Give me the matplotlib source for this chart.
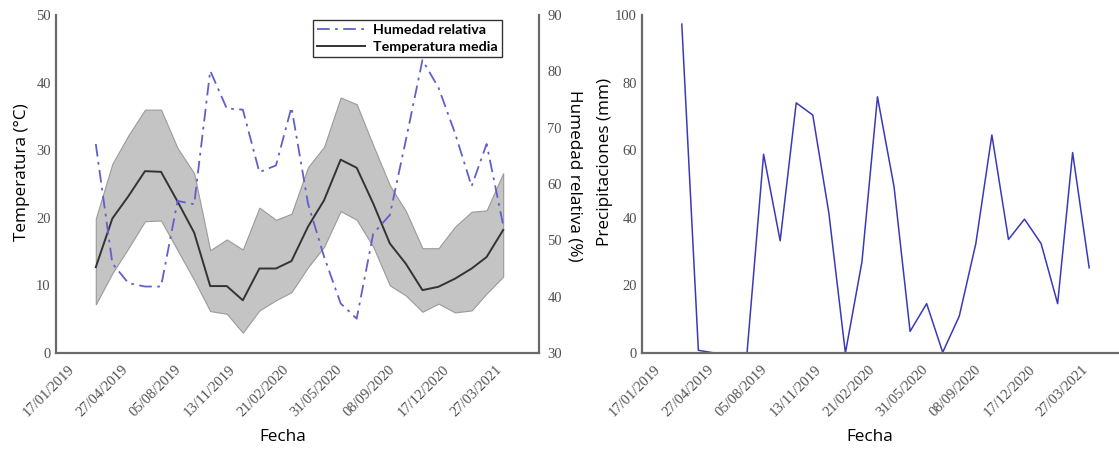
import matplotlib
matplotlib.use("Agg")
import matplotlib.pyplot as plt
import matplotlib.dates as mdates
import pandas as pd

# ---------------- data ----------------
fechas = ["2019-03-10", "2019-04-10", "2019-05-10", "2019-06-10", "2019-07-10",
          "2019-08-10", "2019-09-10", "2019-10-10", "2019-11-10", "2019-12-10",
          "2020-01-10", "2020-02-10", "2020-03-10", "2020-04-10", "2020-05-10",
          "2020-06-10", "2020-07-10", "2020-08-10", "2020-09-10", "2020-10-10",
          "2020-11-10", "2020-12-10", "2021-01-10", "2021-02-10", "2021-03-10",
          "2021-04-10"]
temp_media = [12.7, 19.9, 23.2, 26.9, 26.8, 22.4, 17.8, 9.9, 9.9, 7.8, 12.5, 12.5, 13.6,
              18.7, 22.6, 28.6, 27.4, 22.1, 16.2, 13.2, 9.3, 9.8, 11.0, 12.5, 14.2, 18.2]
temp_max = [19.9, 28.0, 32.2, 36.0, 36.0, 30.3, 26.6, 15.2, 16.8, 15.3, 21.5, 19.7, 20.6,
            27.5, 30.5, 37.8, 36.8, 30.7, 24.8, 21.0, 15.5, 15.5, 18.7, 20.9, 21.1, 26.6]
temp_min = [7.2, 11.8, 15.5, 19.5, 19.6, 15.2, 10.8, 6.2, 5.8, 3.0, 6.3, 7.8, 9.0,
            12.7, 15.7, 21.0, 19.7, 15.7, 10.0, 8.5, 6.1, 7.3, 6.0, 6.3, 8.8, 11.3]
humedad = [67.1, 45.9, 42.4, 41.8, 41.8, 57.0, 56.4, 80.1, 73.4, 73.2, 62.1, 63.3, 73.6,
           56.5, 47.1, 38.8, 36.1, 51.2, 54.5, 67.8, 82.0, 77.1, 69.0, 59.6, 67.1, 52.7]
precip = [97.3, 0.8, 0.0, 0.0, 0.0, 58.8, 33.2, 74.0, 70.4, 41.5, 0.0, 27.0, 75.8,
          49.2, 6.4, 14.6, 0.2, 10.9, 32.4, 64.5, 33.6, 39.6, 32.4, 14.6, 59.3, 25.2]
tick_fechas = ["2019-01-17", "2019-04-27", "2019-08-05", "2019-11-13", "2020-02-21",
               "2020-05-31", "2020-09-08", "2020-12-17", "2021-03-27"]

x = pd.to_datetime(fechas)
xt = pd.to_datetime(tick_fechas)
xlim = (pd.Timestamp("2018-12-25"), pd.Timestamp("2021-06-16"))

W, H = 1119, 450
fig = plt.figure(figsize=(W / 100, H / 100), dpi=100)

spine_col = "#6a6a6a"
tick_col = "#505050"
serif = "Liberation Serif"
sans = "Open Sans"
lab_size = 12.3


def style_axis(ax, spines_on):
    for s in ["left", "right", "top", "bottom"]:
        ax.spines[s].set_visible(s in spines_on)
        ax.spines[s].set_color(spine_col)
        ax.spines[s].set_linewidth(1.6)
    ax.tick_params(length=0, labelsize=10.5, labelcolor=tick_col)
    for lab in ax.get_xticklabels() + ax.get_yticklabels():
        lab.set_fontfamily(serif)


def date_ticks(ax):
    ax.set_xlim(*xlim)
    ax.set_xticks(xt)
    ax.xaxis.set_major_formatter(mdates.DateFormatter("%d/%m/%Y"))
    ax.tick_params(axis="x", pad=7)
    for lab in ax.get_xticklabels():
        lab.set_rotation(45)
        lab.set_ha("right")
        lab.set_va("top")
        lab.set_rotation_mode("anchor")
        lab.set_fontfamily(serif)


# ---------------- left panel ----------------
ax1 = fig.add_axes([55.7 / W, 1 - 353 / H, 483.3 / W, 338 / H])
ax1.fill_between(x, temp_min, temp_max, facecolor="#c4c4c4", edgecolor="#9a9a9a", lw=0.8)
l_temp, = ax1.plot(x, temp_media, color="#333333", lw=1.4, label="Temperatura media")
ax1.set_ylim(0, 50)
ax1.set_yticks(range(0, 51, 10))
style_axis(ax1, ["left", "bottom"])
date_ticks(ax1)

ax2 = ax1.twinx()
l_hum, = ax2.plot(x, humedad, color="#6060cc", lw=1.3, linestyle=(0, (7, 3, 1.5, 3)),
                  label="Humedad relativa")
ax2.set_ylim(30, 90)
ax2.set_yticks(range(30, 91, 10))
style_axis(ax2, ["right"])
ax2.tick_params(axis="y", pad=6)
ax2.set_xlim(*xlim)

leg = ax2.legend(handles=[l_hum, l_temp], loc="upper right",
                 bbox_to_anchor=(502 / W, 1 - 20 / H), bbox_transform=fig.transFigure,
                 prop={"family": "Lato", "weight": "bold", "size": 10.3},
                 frameon=True, fancybox=False, borderpad=0.3, labelspacing=0.3,
                 handlelength=3.3, handletextpad=0.6, borderaxespad=0)
leg.get_frame().set_edgecolor("black")
leg.get_frame().set_linewidth(1.0)

ax1.set_xlabel("Fecha", fontfamily=sans, fontsize=lab_size)
ax1.xaxis.set_label_coords(283 / W, 1 - 437 / H, transform=fig.transFigure)
ax1.xaxis.label.set_va("center")
ax1.set_ylabel("Temperatura (°C)", fontfamily=sans, fontsize=lab_size)
ax1.yaxis.set_label_coords(22 / W, 1 - 172 / H, transform=fig.transFigure)
ax1.yaxis.label.set(va="center", ha="center", rotation_mode="default")
ax2.set_ylabel("Humedad relativa (%)", fontfamily=sans, fontsize=lab_size, rotation=270)
ax2.yaxis.set_label_coords(575 / W, 1 - 176 / H, transform=fig.transFigure)
ax2.yaxis.label.set(va="center", ha="center", rotation_mode="default")

# ---------------- right panel ----------------
ax3 = fig.add_axes([641.7 / W, 1 - 353 / H, 483.3 / W, 338 / H])
ax3.plot(x, precip, color="#3a3ab8", lw=1.1)
ax3.set_ylim(0, 100)
ax3.set_yticks(range(0, 101, 20))
style_axis(ax3, ["left", "bottom"])
date_ticks(ax3)
ax3.set_xlabel("Fecha", fontfamily=sans, fontsize=lab_size)
ax3.xaxis.set_label_coords(870 / W, 1 - 437 / H, transform=fig.transFigure)
ax3.xaxis.label.set_va("center")
ax3.set_ylabel("Precipitaciones (mm)", fontfamily=sans, fontsize=lab_size)
ax3.yaxis.set_label_coords(605 / W, 1 - 162 / H, transform=fig.transFigure)
ax3.yaxis.label.set(va="center", ha="center", rotation_mode="default")

fig.savefig("out.png", dpi=100)
